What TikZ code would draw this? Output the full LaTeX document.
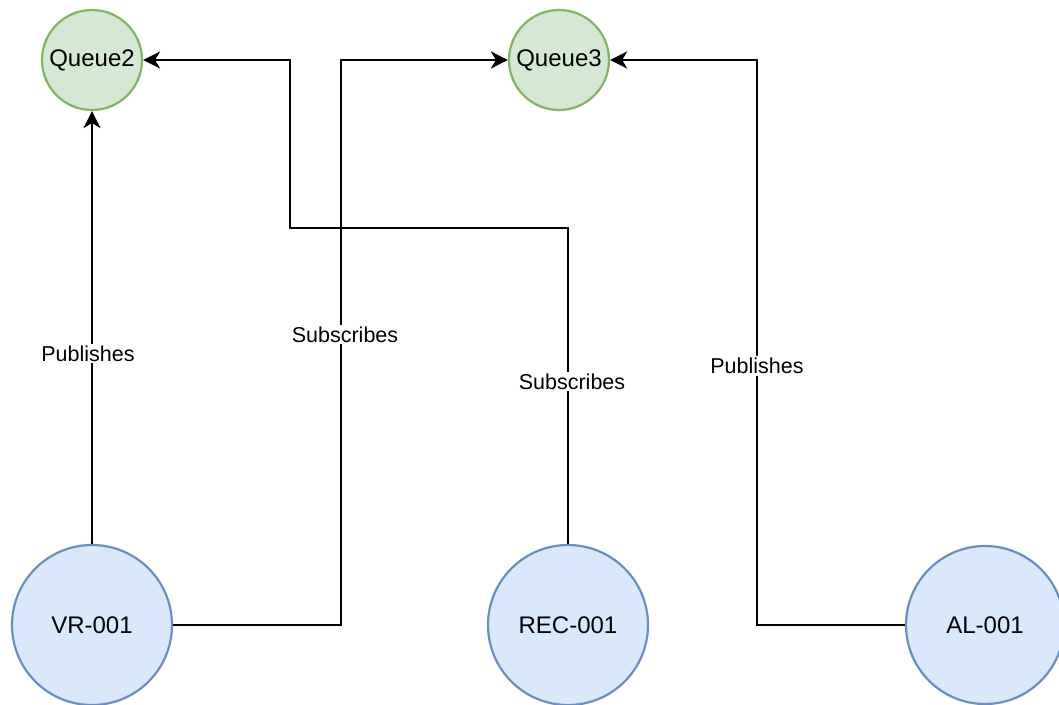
\documentclass[tikz,border=0pt]{standalone}
\usepackage{fontspec}
\setmainfont{Liberation Sans}
\usetikzlibrary{arrows.meta}
\begin{document}
\begin{tikzpicture}[x=1pt,y=-1pt,line width=2.2pt,
  >={Stealth[length=17pt,width=17pt,inset=5pt]},
  queue/.style={circle,fill=qfill,draw=qline,inner sep=0pt,minimum size=100pt,font=\fontsize{24}{28}\selectfont},
  device/.style={circle,fill=dfill,draw=dline,inner sep=0pt,minimum size=160pt,font=\fontsize{24}{28}\selectfont},
  lbl/.style={fill=white,inner sep=2pt,font=\fontsize{21.5}{25}\selectfont}]
\definecolor{qfill}{HTML}{D5E8D4}
\definecolor{qline}{HTML}{82B366}
\definecolor{dfill}{HTML}{DAE8FC}
\definecolor{dline}{HTML}{6C8EBF}
\useasboundingbox (0,0) rectangle (1059,704);
% queues
\node[queue] (q2) at (92,60) {Queue2};
\node[queue] (q3) at (559,60) {Queue3};
% devices
\node[device] (vr) at (92,625) {VR-001};
\node[device] (rec) at (568,625) {REC-001};
\node[device,minimum size=158pt] (al) at (985,625) {AL-001};
% bends
\coordinate (vrbend) at (341,625);
\coordinate (recbend) at (568,228);
\coordinate (q2bend) at (290,60);
\coordinate (albend) at (757,625);
% connectors
\draw[->] (vr.north) -- node[lbl,pos=0.44,xshift=-4pt]{Publishes} (q2.south);
\draw[->] (vr.east) -- (vrbend) |- node[lbl,pos=0.257,xshift=4pt]{Subscribes} (q3.west);
\draw[->] (rec.north) -- node[lbl,pos=0.514,xshift=4pt]{Subscribes} (recbend) -| (q2bend) -- (q2.east);
\draw[->] (al.west) -- (albend) |- node[lbl,pos=0.229]{Publishes} (q3.east);
\end{tikzpicture}
\end{document}
